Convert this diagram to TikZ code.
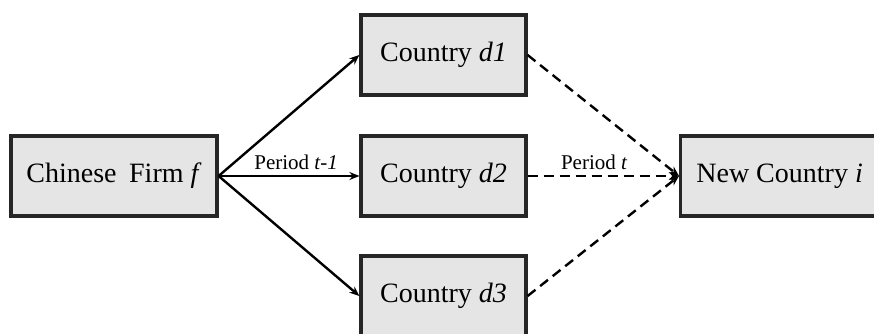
\documentclass[tikz,border=0pt]{standalone}
\usepackage{fontspec}
\setmainfont{Liberation Serif}
\usetikzlibrary{arrows.meta}
\begin{document}
\begin{tikzpicture}[x=1pt,y=-1pt,
  boxnode/.style={draw=black!85, line width=3.2pt, fill=gray!20, minimum height=80pt, inner sep=0pt, font=\fontsize{28}{32}\selectfont},
  conn/.style={line width=2.4pt, -{Stealth[length=10pt,width=8pt]}},
  dconn/.style={conn, dash pattern=on 10pt off 6pt},
  lab/.style={font=\fontsize{21}{24}\selectfont, inner sep=0pt}]
\useasboundingbox (0,0) rectangle (874,334);
\clip (0,0) rectangle (874,334);
\node[boxnode, minimum width=206pt] (firm) at (114,176) {Chinese\hspace{0.2em} Firm \textit{f}};
\node[boxnode, minimum width=165pt] (d1) at (443.5,55) {Country \textit{d1}};
\node[boxnode, minimum width=165pt] (d2) at (443.5,176) {Country \textit{d2}};
\node[boxnode, minimum width=165pt] (d3) at (443.5,296) {Country \textit{d3}};
\node[boxnode, minimum width=210pt, anchor=west] (new) at (679,176) {\hspace{-12pt}New Country \textit{i}};
\draw[conn] (firm.east) -- (d1.west);
\draw[conn] (firm.east) -- node[lab, above=5pt, pos=0.55] (l1) {Period \textit{t-1}} (d2.west);
\draw[conn] (firm.east) -- (d3.west);
\draw[dconn] (d1.east) -- (new.west);
\draw[dconn] (d2.east) -- node[lab, above=5pt, pos=0.44] (l2) {Period \textit{t}} (new.west);
\draw[dconn] (d3.east) -- (new.west);
\end{tikzpicture}
\end{document}
